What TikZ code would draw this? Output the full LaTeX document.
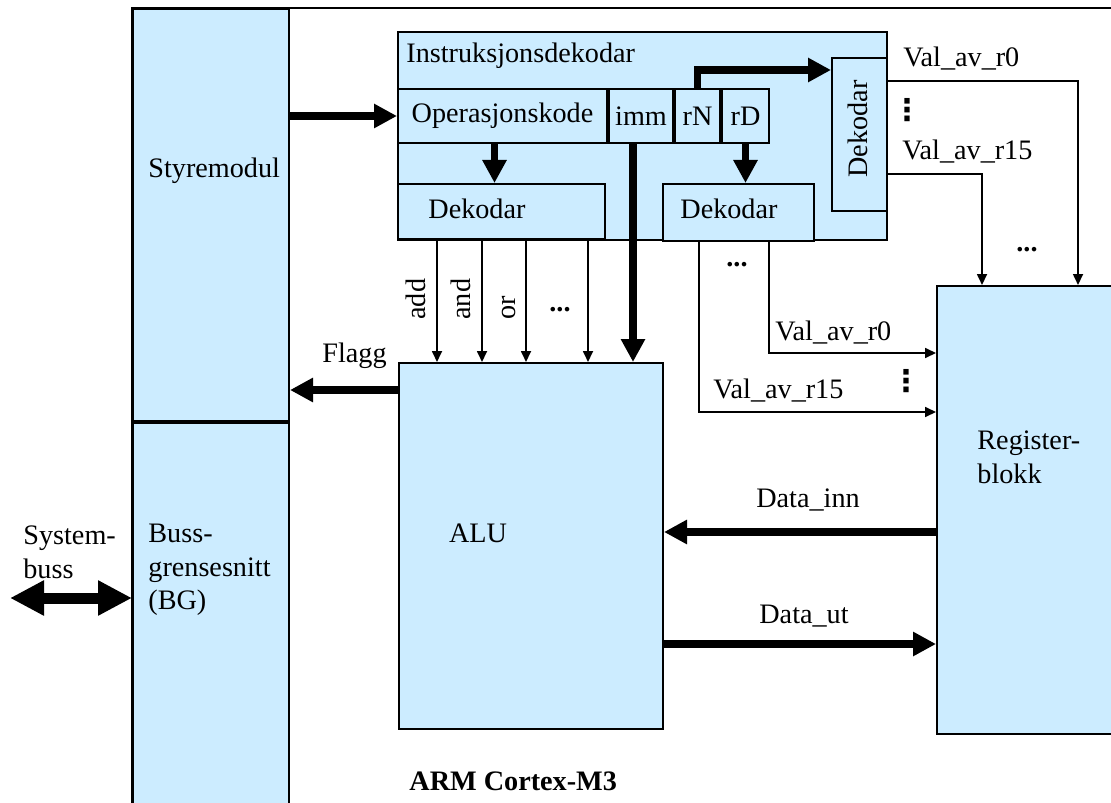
\documentclass[tikz,border=0pt]{standalone}
\usepackage{fontspec}
\setmainfont{Liberation Serif}
\newfontfamily\symfont{DejaVu Sans}
\usetikzlibrary{arrows.meta, positioning}

\definecolor{blockblue}{RGB}{204,236,255}

\begin{document}
\begin{tikzpicture}[x=0.5pt, y=-0.5pt,
  every node/.style={font=\fontsize{14.1pt}{16.8pt}\selectfont},
  blk/.style={draw, fill=blockblue, line width=1pt, inner sep=0pt, anchor=north west},
  txt/.style={inner sep=0pt},
  vdot/.style={inner sep=0pt, font=\fontsize{15pt}{15pt}\symfont\bfseries},
  bus/.style={line width=3.8pt, -{Triangle[width=11.5pt, length=11.5pt]}},
  sig/.style={line width=0.85pt, -{Triangle[width=5pt, length=5.5pt]}}]
  \useasboundingbox (0,0) rectangle (1111,802);
  \clip (0,0) rectangle (1111,802);
  % processor frame
  \draw[line width=1pt] (132,8) rectangle (1130,830);
  % main blocks
  \node[blk, minimum width=78pt, minimum height=206pt] (styr) at (132,8) {};
  \node[blk, minimum width=78pt, minimum height=210pt] (bg) at (styr.south west) {};
  \node[blk, minimum width=244.5pt, minimum height=104pt] (instr) at (397,31) {};
  \node[blk, minimum width=132pt, minimum height=183pt] (alu) at (398,362) {};
  \node[blk, minimum width=100pt, minimum height=224pt] (reg) at (936,285) {};
  % instruction fields
  \node[blk, minimum width=104.5pt, minimum height=27pt] (opk) at (397,88) {Operasjonskode};
  \node[blk, minimum width=32pt, minimum height=27pt] (imm) at (opk.north east) {imm};
  \node[blk, minimum width=22.5pt, minimum height=27pt] (rn) at (imm.north east) {rN};
  \node[blk, minimum width=23.5pt, minimum height=27pt] (rd) at (rn.north east) {rD};
  % decoders
  \node[blk, minimum width=103.5pt, minimum height=27.5pt] (deka) at (397,183) {};
  \node[blk, minimum width=75.5pt, minimum height=28.5pt] (dekb) at (662,183) {};
  \node[blk, minimum width=27.5pt, minimum height=76.5pt] (dekc) at (831,57) {};
  % texts
  \node[txt, anchor=base west] at (406,63) {Instruksjonsdekodar};
  \node[txt, anchor=base west] at (428,218) {Dekodar};
  \node[txt, anchor=base west] at (680,218) {Dekodar};
  \node[txt, rotate=90] at (858,129) {Dekodar};
  \node[txt, anchor=base west] at (148,177) {Styremodul};
  \node[txt, anchor=base west] at (322,362) {Flagg};
  \node[txt, anchor=west, align=left] at (148,570) {Buss-\\grensesnitt\\(BG)};
  \node[txt, anchor=west, align=left] at (23,552) {System-\\buss};
  \node[txt, anchor=west, align=left] at (977,457) {Register-\\blokk};
  \node[txt, anchor=base] at (478,542) {ALU};
  \node[txt, anchor=base] at (808,507) {Data\_inn};
  \node[txt, anchor=base] at (804,623) {Data\_ut};
  \node[txt, anchor=base west, font=\fontsize{14.1pt}{16.8pt}\selectfont\bfseries] at (409,790) {ARM Cortex-M3};
  \node[txt, anchor=base west] at (903,67) {Val\_av\_r0};
  \node[txt, anchor=base west] at (902,160) {Val\_av\_r15};
  \node[txt, anchor=base west] at (775,340) {Val\_av\_r0};
  \node[txt, anchor=base west] at (713,398) {Val\_av\_r15};
  \node[txt, rotate=90, anchor=base west] at (425,320) {add};
  \node[txt, rotate=90, anchor=base west] at (470,320) {and};
  \node[txt, rotate=90, anchor=base west] at (515,320) {or};
  \node[txt] at (560,310) {\textbf{...}};
  \node[txt] at (737,265) {\textbf{...}};
  \node[txt] at (1027,250) {\textbf{...}};
  \node[vdot] at (907,110) {⋮};
  \node[vdot] at (906,381) {⋮};
  % wide buses
  \coordinate (opkout) at ([xshift=-4pt]opk.south);
  \coordinate (immout) at ([xshift=-4pt]imm.south);
  \draw[bus] (styr.east |- opk.west) -- (opk.west);
  \draw[bus] (rn.north) |- (dekc.west |- 0,70);
  \draw[bus] (opkout) -- (opkout |- deka.north);
  \draw[bus] (rd.south) -- (rd.south |- dekb.north);
  \draw[bus] (immout) -- (immout |- alu.north);
  \draw[bus] (alu.west |- 0,390) -- (styr.east |- 0,390);
  \draw[bus] (reg.west |- 0,532) -- (alu.east |- 0,532);
  \draw[bus] (alu.east |- 0,644) -- (reg.west |- 0,644);
  \coordinate (sysbus) at (10,598);
  \draw[line width=5.5pt, {Triangle[width=16.5pt, length=17pt]}-{Triangle[width=16.5pt, length=17pt]}]
    (sysbus) -- (bg.west |- sysbus);
  % control signals
  \foreach \x in {437,482,526,588}
    \draw[sig] (\x,0 |- deka.south) -- (\x,0 |- alu.north);
  \draw[sig] (769,0 |- dekb.south) |- (reg.west |- 0,353);
  \draw[sig] (699,0 |- dekb.south) |- (reg.west |- 0,412);
  \draw[sig] (dekc.east |- 0,81) -| (1078,0 |- reg.north);
  \draw[sig] (dekc.east |- 0,174) -| (982,0 |- reg.north);
\end{tikzpicture}
\end{document}
